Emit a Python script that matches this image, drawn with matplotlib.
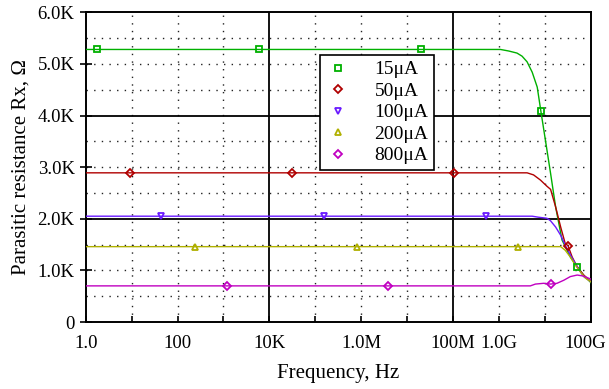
import matplotlib
matplotlib.use("Agg")
import matplotlib.pyplot as plt
import matplotlib.transforms as mtransforms
import numpy as np

plt.rcParams['font.family'] = ['Liberation Serif', 'DejaVu Serif']

# data (frequency in Hz, resistance in ohm)
labels = ["15μA", "50μA", "100μA", "200μA", "800μA"]
colors = ["#00b000", "#b00000", "#6a1aff", "#b0b000", "#c000c0"]
markers = ["s", "D", "v", "^", "D"]

f_15 = [1, 1.74, 5.9e3, 2.04e7, 1.07e9, 1.62e9, 2.45e9, 3.16e9, 4.07e9, 5.25e9,
        6.76e9, 8.13e9, 1.02e10, 1.32e10, 1.70e10, 2.34e10, 3.55e10, 5.01e10, 6.92e10, 1e11]
r_15 = [5280, 5280, 5280, 5280, 5280, 5250, 5210, 5150, 5040, 4840,
        4550, 4080, 3520, 2880, 2230, 1590, 1260, 1070, 910, 760]
m_15 = [1, 2, 3, 11, 17]

f_50 = [1, 9.2, 3.1e4, 1.05e8, 4.07e9, 5.62e9, 7.94e9, 1.10e10, 1.32e10, 1.70e10,
        2.19e10, 2.75e10, 3.16e10, 3.89e10, 5.01e10, 6.92e10, 1e11]
r_50 = [2890, 2890, 2890, 2890, 2890, 2850, 2750, 2630, 2570, 2230,
        1840, 1520, 1480, 1260, 1070, 910, 780]
m_50 = [1, 2, 3, 12]

f_100 = [1, 44.7, 1.51e5, 5.13e8, 5.25e9, 7.24e9, 1.10e10, 1.32e10, 1.70e10,
         2.19e10, 2.75e10, 3.55e10, 5.01e10, 6.92e10, 1e11]
r_100 = [2050, 2050, 2050, 2050, 2050, 2030, 2010, 1960, 1840,
         1680, 1490, 1300, 1070, 880, 780]
m_100 = [1, 2, 3]

f_200 = [1, 234, 7.94e5, 2.63e9, 2.19e10, 2.75e10, 3.55e10, 4.57e10, 5.89e10, 7.59e10, 1e11]
r_200 = [1460, 1460, 1460, 1460, 1460, 1390, 1260, 1100, 970, 850, 780]
m_200 = [1, 2, 3]

f_800 = [1, 1.2e3, 3.8e6, 4.79e9, 6.17e9, 9.33e9, 1.32e10, 1.82e10, 2.57e10,
         3.55e10, 5.01e10, 6.92e10, 1e11]
r_800 = [700, 700, 700, 700, 735, 750, 735, 750, 810, 880, 910, 890, 830]
m_800 = [1, 2, 6]

series = [(f_15, r_15, m_15), (f_50, r_50, m_50), (f_100, r_100, m_100),
          (f_200, r_200, m_200), (f_800, r_800, m_800)]

xtick_pos = [1, 1e2, 1e4, 1e6, 1e8, 1e9, 1e11]
xtick_lab = ["1.0", "100", "10K", "1.0M", "100M", "1.0G", "100G"]
ytick_pos = [0, 1000, 2000, 3000, 4000, 5000, 6000]
ytick_lab = ["0", "1.0K", "2.0K", "3.0K", "4.0K", "5.0K", "6.0K"]

fig = plt.figure(figsize=(6.09, 3.89), dpi=100)
ax = fig.add_axes([0.1407, 0.1722, 0.8297, 0.7962])
ax.set_xscale("log")
ax.set_xlim(1, 1e11)
ax.set_ylim(0, 6000)

# grid: solid black every 4 decades / 2K, dotted otherwise
dots = (0, (1, 4.5))
for d in range(1, 11):
    if d in (4, 8):
        ax.axvline(10.0 ** d, color="black", lw=1.3, zorder=1)
    else:
        ax.axvline(10.0 ** d, color="#222222", lw=1.0, ls=dots, zorder=1)
for v in range(500, 6000, 500):
    if v in (2000, 4000):
        ax.axhline(v, color="black", lw=1.3, zorder=1)
    else:
        ax.axhline(v, color="#222222", lw=1.0, ls=dots, zorder=1)

for (f, r, m), lab, c, mk in zip(series, labels, colors, markers):
    ax.plot(f, r, color=c, lw=1.0, zorder=3)
    ms = 4 if mk == "D" else 5
    ax.plot(np.array(f)[m], np.array(r)[m], ls="none", marker=mk, ms=ms,
            mfc="none", mec=c, mew=1.3, color=c, label=lab, zorder=4)

ax.set_xticks(xtick_pos)
ax.set_xticklabels(xtick_lab)
ax.set_xticks([10.0 ** d for d in range(0, 12) if 10.0 ** d not in xtick_pos], minor=True)
ax.xaxis.set_minor_formatter(plt.NullFormatter())
ax.set_yticks(ytick_pos)
ax.set_yticklabels(ytick_lab)
ax.tick_params(axis="x", which="both", direction="in", length=4, width=1.2,
               labelsize=13.5, pad=9)
ax.tick_params(axis="y", which="major", direction="inout", length=8, width=1.2,
               labelsize=13.5, pad=4)
for s in ax.spines.values():
    s.set_linewidth(1.4)

# keep the last tick label inside the image
last = ax.get_xticklabels()[-1]
last.set_transform(last.get_transform() +
                   mtransforms.ScaledTranslation(-6 / 100, 0, fig.dpi_scale_trans))

ax.set_xlabel("Frequency, Hz", fontsize=15, labelpad=9)
ax.set_ylabel("Parasitic resistance Rx, Ω", fontsize=15, labelpad=5)

leg = ax.legend(loc="upper left", bbox_to_anchor=(0.464, 0.862), fontsize=14,
                frameon=True, fancybox=False, edgecolor="black", framealpha=1,
                handlelength=1.2, handletextpad=1.3, labelspacing=0.2,
                borderpad=0.3, borderaxespad=0)
leg.get_frame().set_linewidth(1.2)
leg.set_zorder(5)

fig.savefig("out.png", dpi=100)
